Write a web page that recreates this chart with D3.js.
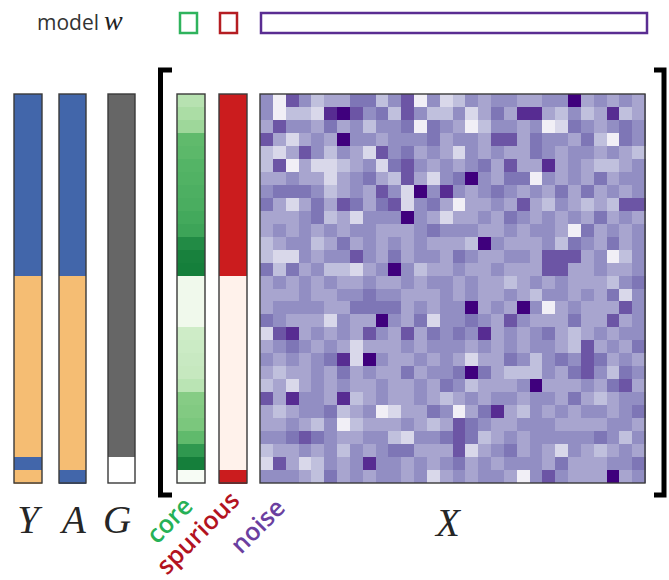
<!DOCTYPE html>
<html>
<head>
<meta charset="utf-8">
<script src="https://cdn.jsdelivr.net/npm/d3@7"></script>
<style>
  body { margin: 0; background: #ffffff; }
  svg { display: block; }
</style>
</head>
<body>
<svg id="chart" width="669" height="580"></svg>
<script>
// ---- data -------------------------------------------------------------
// one entry per training sample (30 samples, top to bottom)
const sampleIds = d3.range(30);

// label Y: 1 = blue class, 0 = orange class
const labelY = [1,1,1,1,1,1,1,1,1,1,1,1,1,1, 0,0,0,0,0,0,0,0,0,0,0,0,0,0, 1,0];
// spurious attribute A: 1 = blue, 0 = orange
const attrA  = [1,1,1,1,1,1,1,1,1,1,1,1,1,1, 0,0,0,0,0,0,0,0,0,0,0,0,0,0, 0,1];
// group G: 1 = majority group (grey), 0 = minority group (white)
const groupG = [1,1,1,1,1,1,1,1,1,1,1,1,1,1, 1,1,1,1,1,1,1,1,1,1,1,1,1,1, 0,0];

// core feature strength (0..1)
const coreFeature = [0.30,0.34,0.38,0.55,0.56,0.58,0.59,0.60,0.61,0.63,0.65,0.75,0.79,0.80,
                     0.05,0.05,0.05,0.05,0.22,0.23,0.24,0.25,0.29,0.45,0.46,0.48,0.55,0.70,0.80,0.00];
// spurious feature strength (0..1)
const spuriousFeature = [0.75,0.75,0.75,0.75,0.75,0.75,0.75,0.75,0.75,0.75,0.75,0.75,0.75,0.75,
                         0.02,0.02,0.02,0.02,0.02,0.02,0.02,0.02,0.02,0.02,0.02,0.02,0.02,0.02,0.02,0.75];

// noise features: 30 samples x 30 features, intensity level 1 (pale) .. 9 (deep)
const noiseFeatures = [
  [5,1,7,5,3,4,4,6,6,3,5,7,1,5,2,3,5,4,5,5,4,4,5,5,9,4,5,4,5,4],
  [5,1,3,3,2,8,9,7,5,6,3,7,5,3,3,5,2,4,6,4,8,8,4,3,5,3,4,8,3,4],
  [4,7,5,5,4,6,4,5,3,5,5,6,1,6,5,4,1,3,5,5,4,5,1,2,6,5,4,5,6,5],
  [7,4,2,4,5,4,9,5,5,4,5,5,5,6,4,5,5,4,7,7,4,6,5,5,4,6,3,1,6,5],
  [3,2,4,7,5,3,5,4,2,7,5,6,4,5,4,2,5,4,5,4,4,6,5,4,5,5,4,5,4,3],
  [3,7,1,4,2,2,3,4,5,2,6,7,5,4,5,4,5,6,4,7,4,4,8,4,5,4,3,3,4,5],
  [4,4,5,4,4,2,4,5,6,4,3,7,4,2,5,6,9,5,4,6,6,1,5,4,5,4,6,4,5,5],
  [5,6,6,6,5,3,4,5,4,7,5,2,9,5,8,5,4,5,6,5,4,5,4,6,4,6,4,5,4,5],
  [6,4,2,4,6,4,7,6,4,6,7,2,5,6,4,1,4,4,5,4,7,4,3,5,4,3,4,3,7,7],
  [4,4,4,5,6,3,4,2,5,5,5,9,5,4,2,4,4,5,4,6,5,4,5,4,5,4,6,4,5,4],
  [4,5,4,5,4,5,4,5,5,4,4,4,5,6,5,5,5,4,4,5,4,5,5,4,1,6,4,5,4,5],
  [3,4,5,5,3,4,6,4,5,4,5,4,5,4,4,4,3,9,5,4,4,4,5,3,6,5,4,6,4,5],
  [3,2,2,5,4,5,5,7,5,4,6,4,5,5,4,6,5,4,4,5,5,4,7,7,7,4,5,1,3,5],
  [6,3,6,4,5,3,3,2,4,5,9,5,3,4,4,5,4,4,5,4,4,4,7,7,4,4,5,4,4,5],
  [4,5,4,5,4,5,4,4,5,4,4,5,4,5,5,4,5,4,4,3,4,5,4,5,4,4,4,3,5,6],
  [4,4,4,5,4,4,5,5,6,5,5,4,4,4,5,4,5,4,4,5,4,3,5,5,4,5,4,6,2,5],
  [4,5,5,5,5,4,4,6,6,6,6,4,5,4,5,5,9,4,5,4,9,5,1,4,5,4,4,4,7,5],
  [6,5,4,4,4,2,5,4,4,9,5,4,6,2,5,5,6,5,4,7,5,4,4,4,6,4,4,7,4,5],
  [2,7,8,4,5,4,5,4,7,5,4,7,4,6,5,6,5,8,4,5,4,5,6,4,3,4,5,4,5,5],
  [4,5,6,5,4,5,4,2,4,4,4,5,4,5,5,5,4,5,4,5,4,5,5,4,3,7,4,5,4,6],
  [5,4,5,4,5,6,8,2,9,5,4,4,5,4,5,4,2,4,4,6,5,3,5,6,5,7,6,4,5,4],
  [4,3,4,4,5,4,6,4,5,4,4,6,4,5,5,6,9,6,4,3,3,3,5,4,6,7,5,3,6,5],
  [3,4,2,4,5,4,5,4,4,5,4,4,5,4,6,5,3,4,4,4,5,9,4,4,4,5,4,6,7,4],
  [7,4,8,5,5,4,8,3,4,5,4,4,5,4,3,4,5,4,5,5,4,5,5,4,6,4,3,4,5,5],
  [4,3,4,5,5,6,3,4,5,1,2,4,4,6,5,1,4,6,8,4,3,5,4,5,4,5,5,4,5,6],
  [4,4,5,4,3,5,1,3,4,4,4,5,4,3,4,7,6,5,4,4,5,5,5,4,4,4,4,5,5,4],
  [5,5,6,7,6,5,4,4,5,5,3,2,5,5,6,7,6,3,4,5,4,5,5,5,5,5,6,5,3,5],
  [3,4,4,5,4,5,3,5,4,5,6,6,4,4,4,7,2,4,5,6,4,5,4,2,5,4,3,4,5,4],
  [2,7,4,2,3,5,4,5,8,5,5,4,5,4,5,6,4,5,4,5,5,5,4,6,4,4,4,5,5,6],
  [5,5,5,4,3,6,4,5,4,5,5,4,5,2,4,5,4,5,5,4,1,5,7,5,4,4,4,9,4,5]
];

// ---- layout ------------------------------------------------------------
const svg = d3.select("#chart");
const stripTop = 94, stripBottom = 483;

const rowScale = d3.scaleBand().domain(sampleIds).range([stripTop, stripBottom]).paddingInner(0);
const noiseCols = d3.range(noiseFeatures[0].length);
const colScale = d3.scaleBand().domain(noiseCols).range([260, 645]).paddingInner(0);

const blue = "#4266aa", orange = "#f5bd73", grey = "#666666";
const binColor = (v) => v ? blue : orange;
const greens = d3.scaleSequential(d3.interpolateGreens).domain([0, 1]);
const reds = d3.scaleSequential(d3.interpolateReds).domain([0, 1]);
// noise level -> position on the Purples ramp
const purpleLevel = d3.scaleLinear()
  .domain([1, 2, 3, 4, 5, 6, 7, 8, 9])
  .range([0.1, 0.25, 0.36, 0.46, 0.55, 0.64, 0.74, 0.86, 1.0]);
const purples = (lvl) => d3.interpolatePurples(purpleLevel(lvl));

// draws one vertical strip of cells from an array of values
function strip(values, x0, x1, color) {
  const g = svg.append("g");
  g.selectAll("rect")
    .data(values)
    .join("rect")
    .attr("shape-rendering", "crispEdges")
    .attr("x", x0)
    .attr("y", (d, i) => rowScale(i))
    .attr("width", x1 - x0)
    .attr("height", rowScale.bandwidth() + 0.5)
    .attr("fill", color);
  g.append("rect")
    .attr("x", x0).attr("y", stripTop)
    .attr("width", x1 - x0).attr("height", stripBottom - stripTop)
    .attr("fill", "none").attr("stroke", "#3a3a3a").attr("stroke-width", 1.4);
}

strip(labelY, 14, 42, binColor);
strip(attrA, 59, 86, binColor);
strip(groupG, 108, 135, (v) => v ? grey : "#ffffff");
strip(coreFeature, 177, 205, (v) => greens(v));
strip(spuriousFeature, 219, 247, (v) => reds(v));

// noise heatmap
const heat = svg.append("g");
heat.selectAll("g")
  .data(noiseFeatures)
  .join("g")
  .attr("transform", (d, i) => `translate(0,${rowScale(i)})`)
  .selectAll("rect")
  .data(d => d)
  .join("rect")
  .attr("shape-rendering", "crispEdges")
  .attr("x", (d, j) => colScale(j))
  .attr("width", colScale.bandwidth() + 0.5)
  .attr("height", rowScale.bandwidth() + 0.5)
  .attr("fill", d => purples(d));
heat.append("rect")
  .attr("x", 260).attr("y", stripTop)
  .attr("width", 645 - 260).attr("height", stripBottom - stripTop)
  .attr("fill", "none").attr("stroke", "#3a3a3a").attr("stroke-width", 1.4);

// brackets around the feature matrix
const bracket = svg.append("g").attr("fill", "none").attr("stroke", "#000").attr("stroke-width", 5);
bracket.append("path").attr("d", "M172,70 H160.5 V495 H172");
bracket.append("path").attr("d", "M654,70 H664 V495 H654");

// model weights legend
svg.append("text").attr("x", 37).attr("y", 30)
  .attr("font-family", "Open Sans, sans-serif").attr("font-size", 21).attr("fill", "#333")
  .text("model");
svg.append("text").attr("x", 104).attr("y", 30)
  .attr("font-family", "Liberation Serif, serif").attr("font-style", "italic")
  .attr("font-size", 28).attr("fill", "#222")
  .text("w");
const legend = svg.append("g").attr("fill", "none").attr("stroke-width", 2.5);
legend.append("rect").attr("x", 180).attr("y", 13).attr("width", 17).attr("height", 20).attr("stroke", "#2fb35d");
legend.append("rect").attr("x", 220).attr("y", 13).attr("width", 17).attr("height", 20).attr("stroke", "#b51d22");
legend.append("rect").attr("x", 261).attr("y", 13).attr("width", 386).attr("height", 20).attr("stroke", "#5a2d92");

// variable names under the strips
const mathFont = "Liberation Serif, serif";
[["Y", 28], ["A", 74], ["G", 117], ["X", 448]].forEach(([t, x]) => {
  svg.append("text").attr("x", x).attr("y", t === "X" ? 536 : 533)
    .attr("text-anchor", "middle")
    .attr("font-family", mathFont).attr("font-style", "italic")
    .attr("font-size", 39).attr("fill", "#262626")
    .text(t);
});

// feature-type labels, slanted
[["core", 157, 545, "#27b157"], ["spurious", 167, 576, "#b3131f"], ["noise", 241, 555, "#6b3fa0"]]
  .forEach(([t, x, y, c]) => {
    svg.append("text")
      .attr("transform", `translate(${x},${y}) rotate(-45)`)
      .attr("font-family", "Open Sans, sans-serif").attr("font-weight", 600)
      .attr("font-size", 25).attr("fill", c)
      .text(t);
  });
</script>
</body>
</html>
